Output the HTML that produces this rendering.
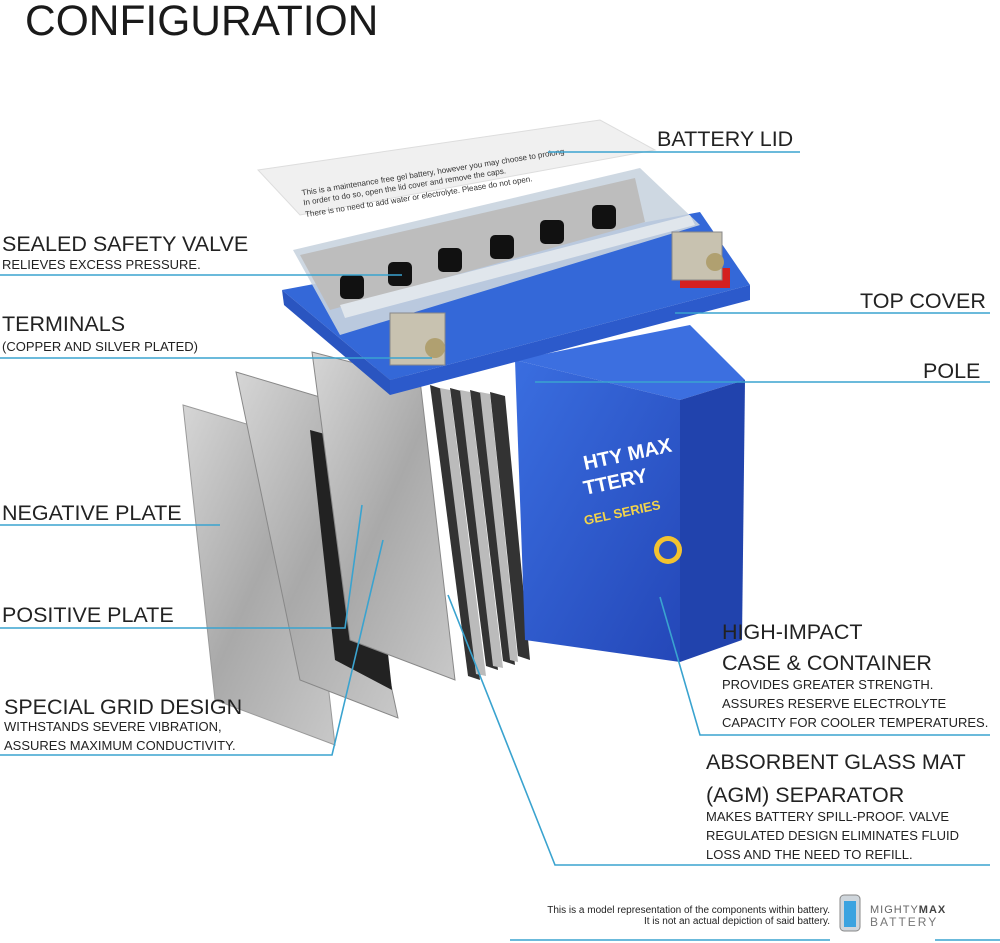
<!DOCTYPE html>
<html><head><meta charset="utf-8"><style>
html,body{margin:0;padding:0;background:#fff}
svg{display:block}
text{font-family:"Liberation Sans",sans-serif;fill:#222}
.h{font-size:21.5px}
.s{font-size:13px}
</style></head><body>
<svg width="1000" height="943" viewBox="0 0 1000 943" xmlns="http://www.w3.org/2000/svg">
<defs>
<linearGradient id="pl" x1="0" y1="0" x2="1" y2="1"><stop offset="0" stop-color="#d6d6d6"/><stop offset="0.5" stop-color="#a9a9a9"/><stop offset="1" stop-color="#c8c8c8"/></linearGradient>
<linearGradient id="bl" x1="0" y1="0" x2="1" y2="1"><stop offset="0" stop-color="#3a6ee0"/><stop offset="1" stop-color="#2447b8"/></linearGradient>
</defs>
<text x="25" y="35" style="font-size:42.5px;fill:#1a1a1a">CONFIGURATION</text>

<polygon points="258,170 600,120 655,150 300,215" fill="#f0f0f0" stroke="#ddd"/>
<g transform="rotate(-9 450 170)"><text x="300" y="172" style="font-size:8px;fill:#333">This is a maintenance free gel battery, however you may choose to prolong</text><text x="300" y="182" style="font-size:8px;fill:#333">In order to do so, open the lid cover and remove the caps.</text><text x="300" y="194" style="font-size:8px;fill:#333">There is no need to add water or electrolyte. Please do not open.</text></g>

<polygon points="183,405 300,440 335,745 215,700" fill="url(#pl)" stroke="#999"/>
<polygon points="236,372 330,400 398,718 300,680" fill="url(#pl)" stroke="#888"/>
<polygon points="310,430 365,445 392,690 335,660" fill="#222"/>
<polygon points="312,352 420,380 455,680 350,640" fill="url(#pl)" stroke="#888"/>
<g fill="#333">
<polygon points="430,385 445,390 480,680 468,676"/><polygon points="450,388 465,392 498,670 486,666"/>
<polygon points="470,390 485,394 515,665 503,661"/><polygon points="490,392 505,396 530,660 518,656"/>
</g>
<g fill="#bbb"><polygon points="440,388 450,390 486,676 476,674"/><polygon points="460,390 470,392 503,668 493,666"/><polygon points="480,392 490,394 518,662 510,660"/></g>

<polygon points="515,360 690,325 745,380 680,400" fill="#3c6fe0"/>
<polygon points="515,360 680,400 680,662 525,640" fill="url(#bl)"/>
<polygon points="680,400 745,380 742,640 680,662" fill="#2143ad"/>
<text x="585" y="470" transform="rotate(-12 585 470)" style="font-size:20px;font-weight:bold;fill:#fff">HTY MAX</text>
<text x="585" y="495" transform="rotate(-12 585 495)" style="font-size:20px;font-weight:bold;fill:#fff">TTERY</text>
<text x="585" y="525" transform="rotate(-12 585 525)" style="font-size:13px;font-weight:bold;fill:#f3d44a">GEL SERIES</text>
<circle cx="668" cy="550" r="14" fill="#f3c330"/><circle cx="668" cy="550" r="9" fill="#2a4fc0"/>

<polygon points="282,290 700,212 750,285 390,380" fill="#3468d8"/>
<polygon points="282,290 390,380 390,395 284,305" fill="#2a55c0"/>
<polygon points="390,380 750,285 750,300 390,395" fill="#2c5acb"/>
<polygon points="293,250 640,168 700,225 340,335" fill="#c9d4df" opacity="0.9"/>
<polygon points="300,255 635,178 645,222 330,310" fill="#bdbdbd"/>
<g fill="#111"><rect x="340" y="275" width="24" height="24" rx="5"/><rect x="388" y="262" width="24" height="24" rx="5"/><rect x="438" y="248" width="24" height="24" rx="5"/><rect x="490" y="235" width="24" height="24" rx="5"/><rect x="540" y="220" width="24" height="24" rx="5"/><rect x="592" y="205" width="24" height="24" rx="5"/></g>
<polygon points="340,305 690,215 695,225 345,318" fill="#e0e6ec"/>
<rect x="680" y="268" width="50" height="20" fill="#d42020"/>
<rect x="672" y="232" width="50" height="48" fill="#c8c2b0" stroke="#888"/>
<circle cx="715" cy="262" r="9" fill="#b0a070"/>
<rect x="390" y="313" width="55" height="52" fill="#c8c2b0" stroke="#888"/>
<circle cx="435" cy="348" r="10" fill="#b0a070"/>

<g stroke="#3aa3cf" stroke-width="1.6" fill="none">
<line x1="548" y1="152" x2="800" y2="152"/>
<line x1="0" y1="275" x2="402" y2="275"/>
<line x1="0" y1="358" x2="432" y2="358"/>
<line x1="675" y1="313" x2="990" y2="313"/>
<line x1="535" y1="382" x2="990" y2="382"/>
<line x1="0" y1="525" x2="220" y2="525"/>
<polyline points="0,628 345,628 362,505"/>
<polyline points="0,755 332,755 383,540"/>
<polyline points="660,597 700,735 990,735"/>
<polyline points="448,595 555,865 990,865"/>
<line x1="510" y1="940" x2="830" y2="940"/>
<line x1="935" y1="940" x2="1000" y2="940"/>
</g>

<text class="h" x="657" y="146">BATTERY LID</text>
<text class="h" x="2" y="251">SEALED SAFETY VALVE</text>
<text class="s" x="2" y="269">RELIEVES EXCESS PRESSURE.</text>
<text class="h" x="2" y="331">TERMINALS</text>
<text class="s" x="2" y="351">(COPPER AND SILVER PLATED)</text>
<text class="h" x="860" y="308">TOP COVER</text>
<text class="h" x="923" y="378">POLE</text>
<text class="h" x="2" y="520">NEGATIVE PLATE</text>
<text class="h" x="2" y="622">POSITIVE PLATE</text>
<text class="h" x="4" y="714">SPECIAL GRID DESIGN</text>
<text class="s" x="4" y="731">WITHSTANDS SEVERE VIBRATION,</text>
<text class="s" x="4" y="750">ASSURES MAXIMUM CONDUCTIVITY.</text>
<text class="h" x="722" y="639">HIGH-IMPACT</text>
<text class="h" x="722" y="670">CASE &amp; CONTAINER</text>
<text class="s" x="722" y="689">PROVIDES GREATER STRENGTH.</text>
<text class="s" x="722" y="708">ASSURES RESERVE ELECTROLYTE</text>
<text class="s" x="722" y="727">CAPACITY FOR COOLER TEMPERATURES.</text>
<text class="h" x="706" y="769">ABSORBENT GLASS MAT</text>
<text class="h" x="706" y="802">(AGM) SEPARATOR</text>
<text class="s" x="706" y="821">MAKES BATTERY SPILL-PROOF. VALVE</text>
<text class="s" x="706" y="840">REGULATED DESIGN ELIMINATES FLUID</text>
<text class="s" x="706" y="859">LOSS AND THE NEED TO REFILL.</text>

<text x="830" y="913" text-anchor="end" style="font-size:10px">This is a model representation of the components within battery.</text>
<text x="830" y="924" text-anchor="end" style="font-size:10px">It is not an actual depiction of said battery.</text>
<rect x="840" y="895" width="20" height="36" rx="4" fill="#cfd6dc" stroke="#888"/>
<rect x="844" y="901" width="12" height="26" fill="#3aa3e0"/>
<text x="870" y="913" style="font-size:11px;fill:#666;letter-spacing:1px">MIGHTY<tspan font-weight="bold" fill="#444">MAX</tspan></text>
<text x="870" y="926" style="font-size:12px;fill:#777;letter-spacing:2px">BATTERY</text>
</svg>
</body></html>
